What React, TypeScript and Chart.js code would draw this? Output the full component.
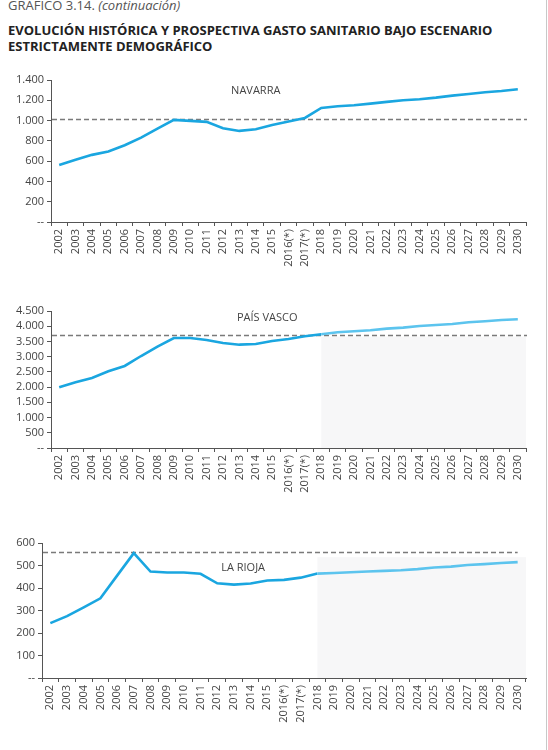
import React, { useEffect, useRef } from "react";
import { Chart, registerables } from "chart.js";

Chart.register(...registerables);

const years = [
  "2002", "2003", "2004", "2005", "2006", "2007", "2008", "2009", "2010", "2011",
  "2012", "2013", "2014", "2015", "2016(*)", "2017(*)", "2018", "2019", "2020",
  "2021", "2022", "2023", "2024", "2025", "2026", "2027", "2028", "2029", "2030",
];

const navarraValues = [
  561, 613, 662, 695, 757, 832, 921, 1007, 997, 987, 925, 898, 915, 957, 990,
  1026, 1125, 1141, 1151, 1167, 1184, 1200, 1210, 1226, 1246, 1262, 1279, 1292, 1309,
];
const paisVascoValues = [
  1994, 2158, 2300, 2519, 2694, 3022, 3329, 3613, 3613, 3548, 3449, 3394, 3416, 3515,
  3581, 3669, 3735, 3800, 3833, 3866, 3920, 3953, 4008, 4041, 4073, 4128, 4161, 4205, 4227,
];
const laRiojaValues = [
  244, 275, 314, 354, 455, 555, 473, 469, 469, 463, 421, 415, 420, 433, 436, 446,
  464, 467, 470, 473, 476, 479, 484, 491, 495, 502, 506, 511, 515,
];

const navarraRef = 1018;
const paisVascoRef = 3722;
const laRiojaRef = 560;

const forecastStart = 16; // 2018

const DARK = "#1aa6e0";
const LIGHT = "#5cc4ee";
const FONT = "'Open Sans', 'Noto Sans', sans-serif";

function fmt(v: number) {
  if (v === 0) return "--";
  return String(v).replace(/\B(?=(\d{3})+(?!\d))/g, ".");
}

type PanelProps = {
  top: number;
  height: number;
  values: number[];
  yMax: number;
  yStep: number;
  yWidth: number;
  padTop: number;
  xHeight: number;
  refValue: number;
  dashEndIndex: number | null;
  shadeTop: number | null;
  lightForecast: boolean;
  label: string;
  labelIndex: number;
  labelValue: number;
};

const overlayPlugin = {
  id: "overlay",
  beforeDatasetsDraw(chart: any, _args: any, opts: any) {
    const { ctx, chartArea } = chart;
    const x = chart.scales.x;
    const y = chart.scales.y;
    ctx.save();
    if (opts.shadeTop != null) {
      const x0 = x.getPixelForValue(opts.shadeFrom);
      const y0 = y.getPixelForValue(opts.shadeTop);
      ctx.fillStyle = "#f7f7f8";
      ctx.fillRect(x0, y0, chartArea.right - x0, chartArea.bottom - y0);
    }
    const yr = Math.round(y.getPixelForValue(opts.ref)) + 0.5;
    const xEnd = opts.dashEndIndex != null ? x.getPixelForValue(opts.dashEndIndex) : chartArea.right + 1;
    ctx.strokeStyle = "#7a7a7a";
    ctx.lineWidth = 1.4;
    ctx.setLineDash([5, 3]);
    ctx.beginPath();
    ctx.moveTo(chartArea.left + 1, yr);
    ctx.lineTo(xEnd, yr);
    ctx.stroke();
    ctx.setLineDash([]);
    ctx.fillStyle = "#444";
    ctx.font = `11px ${FONT}`;
    ctx.textAlign = "center";
    ctx.textBaseline = "middle";
    ctx.fillText(opts.label, x.getPixelForValue(opts.labelIndex), y.getPixelForValue(opts.labelValue));
    ctx.restore();
  },
};

function Panel(p: PanelProps) {
  const ref = useRef<HTMLCanvasElement | null>(null);
  useEffect(() => {
    if (!ref.current) return;
    const chart = new Chart(ref.current, {
      type: "line",
      data: {
        labels: years,
        datasets: [
          {
            data: p.values,
            borderColor: DARK,
            borderWidth: 2.6,
            pointRadius: 0,
            tension: 0,
            fill: false,
            segment: {
              borderColor: (c: any) =>
                p.lightForecast && c.p0DataIndex >= forecastStart ? LIGHT : DARK,
            },
          },
        ],
      },
      options: {
        responsive: false,
        animation: false,
        events: [],
        layout: { padding: { top: p.padTop, left: 0, right: 22, bottom: 0 } },
        plugins: {
          legend: { display: false },
          tooltip: { enabled: false },
          overlay: {
            ref: p.refValue,
            dashEndIndex: p.dashEndIndex,
            shadeTop: p.shadeTop,
            shadeFrom: forecastStart,
            label: p.label,
            labelIndex: p.labelIndex,
            labelValue: p.labelValue,
          },
        } as any,
        scales: {
          x: {
            type: "category",
            offset: true,
            grid: {
              offset: true,
              drawOnChartArea: false,
              drawTicks: true,
              tickLength: 4,
              color: "#555",
            },
            border: { display: true, color: "#555", width: 1 },
            ticks: {
              autoSkip: false,
              minRotation: 90,
              maxRotation: 90,
              padding: 3,
              color: "#444",
              font: { family: FONT, size: 11 },
            },
            afterFit: (s: any) => {
              s.height = p.xHeight;
            },
          },
          y: {
            min: 0,
            max: p.yMax,
            grid: {
              drawOnChartArea: false,
              drawTicks: true,
              tickLength: 4,
              color: "#555",
            },
            border: { display: true, color: "#555", width: 1 },
            ticks: {
              stepSize: p.yStep,
              autoSkip: false,
              padding: 3,
              color: "#444",
              font: { family: FONT, size: 11 },
              callback: (v: any) => fmt(Number(v)),
            },
            afterFit: (s: any) => {
              s.width = p.yWidth;
            },
          },
        },
      },
      plugins: [overlayPlugin],
    });
    return () => chart.destroy();
  }, []);
  return (
    <canvas
      ref={ref}
      width={548}
      height={p.height}
      style={{ position: "absolute", left: 0, top: p.top, width: 548, height: p.height }}
    />
  );
}

export default function App() {
  return (
    <div
      style={{
        position: "absolute",
        left: 0,
        top: 0,
        width: 548,
        height: 750,
        background: "#fff",
        overflow: "hidden",
        fontFamily: FONT,
      }}
    >
      <div
        style={{
          position: "absolute",
          left: 8,
          top: -4,
          fontSize: 13,
          color: "#555",
          whiteSpace: "nowrap",
        }}
      >
        GRAFICO 3.14. <i>(continuación)</i>
      </div>
      <div
        style={{
          position: "absolute",
          left: 8,
          top: 22,
          fontSize: 13,
          lineHeight: "16px",
          fontWeight: 700,
          color: "#222",
          whiteSpace: "nowrap",
        }}
      >
        EVOLUCIÓN HISTÓRICA Y PROSPECTIVA GASTO SANITARIO BAJO ESCENARIO
        <br />
        ESTRICTAMENTE DEMOGRÁFICO
      </div>
      <Panel
        top={70}
        height={215}
        values={navarraValues}
        yMax={1400}
        yStep={200}
        yWidth={51}
        padTop={10}
        xHeight={63}
        refValue={navarraRef}
        dashEndIndex={null}
        shadeTop={null}
        lightForecast={false}
        label="NAVARRA"
        labelIndex={12}
        labelValue={1292}
      />
      <Panel
        top={300}
        height={215}
        values={paisVascoValues}
        yMax={4500}
        yStep={500}
        yWidth={51}
        padTop={11}
        xHeight={67}
        refValue={paisVascoRef}
        dashEndIndex={null}
        shadeTop={3660}
        lightForecast={true}
        label="PAÍS VASCO"
        labelIndex={12.7}
        labelValue={4260}
      />
      <Panel
        top={533}
        height={217}
        values={laRiojaValues}
        yMax={600}
        yStep={100}
        yWidth={42}
        padTop={10}
        xHeight={72}
        refValue={laRiojaRef}
        dashEndIndex={28}
        shadeTop={537}
        lightForecast={true}
        label="LA RIOJA"
        labelIndex={11.55}
        labelValue={488}
      />
      <div
        style={{ position: "absolute", left: 546, top: 0, width: 1, height: 750, background: "#c8c8c8" }}
      />
    </div>
  );
}
